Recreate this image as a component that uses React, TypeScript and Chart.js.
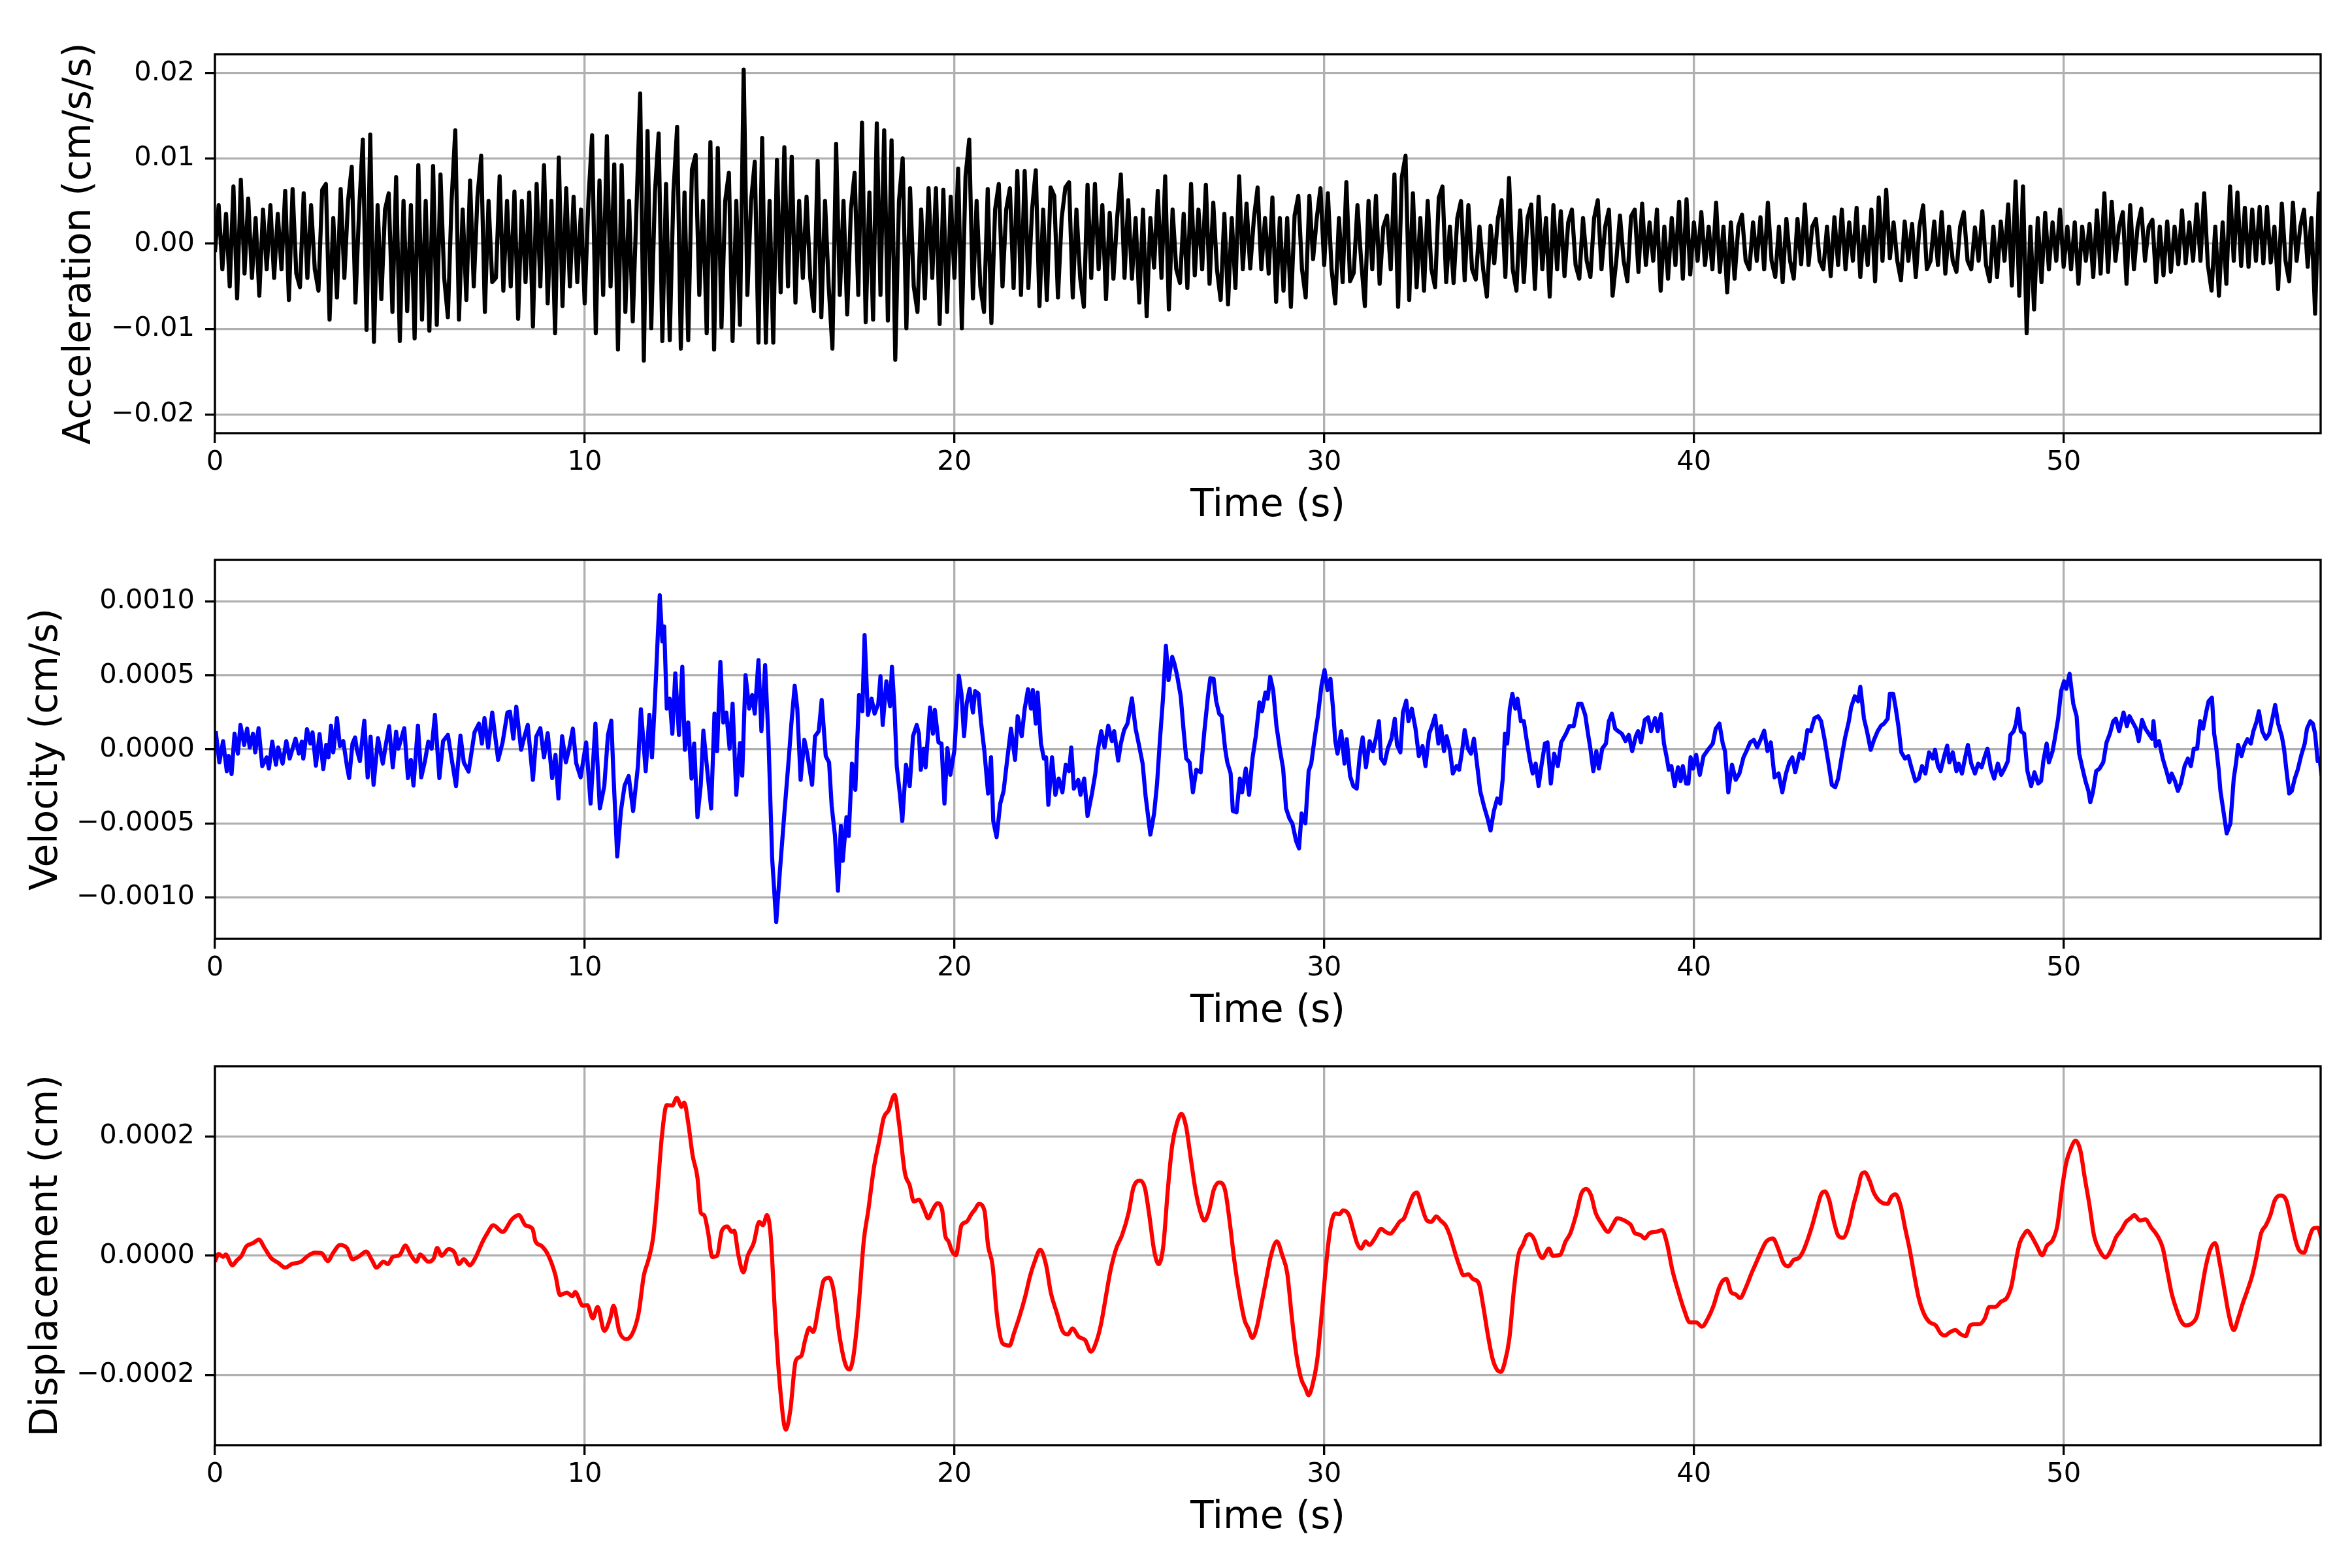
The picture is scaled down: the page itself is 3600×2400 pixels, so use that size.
import React, { useEffect, useRef } from "react";
import { Chart, registerables } from "chart.js";

Chart.register(...registerables);

// time axis (s)
const TIME_MAX = 56.95;
const TIME_TICKS = [0, 10, 20, 30, 40, 50];
const TIME_TICK_LABELS = ["0", "10", "20", "30", "40", "50"];

// acceleration, sampled every ACC_STEP s, values in 1e-3 cm/s/s
const ACC_START = 0;
const ACC_STEP = 0.1;
const ACC_SCALE = 1e-3;
const ACC_VALUES = [
  -1.0, 4.5, -3.0, 3.5, -5.0, 6.7, -6.4, 7.5, -3.5, 5.3,
  -4.0, 3.0, -6.1, 4.0, -3.0, 4.5, -4.0, 3.5, -3.0, 6.2,
  -6.6, 6.4, -3.5, -5.1, 5.9, -4.0, 4.5, -3.0, -5.5, 6.3,
  7.0, -8.9, 3.0, -6.3, 6.4, -4.0, 5.0, 9.0, -6.9, 4.0,
  12.2, -10.1, 12.8, -11.5, 4.5, -6.5, 4.0, 5.9, -8.0, 7.8,
  -11.4, 5.0, -7.9, 4.5, -11.1, 9.2, -8.9, 5.0, -10.2, 9.1,
  -9.5, 8.1, -4.0, -8.6, 5.0, 13.3, -8.9, 4.0, -6.6, 7.4,
  -5.0, 5.5, 10.3, -8.0, 5.0, -4.5, -4.0, 7.9, -5.5, 5.0,
  -5.0, 6.1, -8.8, 5.0, -4.5, 6.0, -9.7, 7.0, -5.0, 9.2,
  -7.0, 5.0, -10.5, 10.1, -7.3, 6.5, -5.0, 5.5, -4.5, 4.0,
  -7.0, 5.0, 12.7, -10.5, 7.4, -6.0, 12.6, -5.0, 9.3, -12.4,
  9.2, -8.0, 5.0, -9.1, 4.0, 17.6, -13.7, 13.2, -9.9, 6.0,
  12.9, -11.4, 7.0, -11.3, 6.0, 13.7, -12.3, 6.0, -11.3, 8.7,
  10.4, -6.0, 5.0, -10.5, 11.9, -12.4, 11.2, -9.8, 5.0, 8.3,
  -11.4, 5.0, -9.5, 20.4, -6.0, 5.0, 9.6, -11.6, 12.4, -11.6,
  5.0, -11.6, 9.8, -5.7, 11.3, -5.0, 10.2, -6.9, 5.0, -4.0,
  5.5, -4.0, -7.9, 9.7, -8.6, 5.0, -5.0, -12.3, 11.7, -6.0,
  5.0, -8.3, 4.0, 8.3, -6.0, 14.2, -9.2, 6.0, -8.9, 14.1,
  -6.0, 13.3, -9.0, 12.1, -13.6, 5.0, 10.0, -9.9, 6.5, -5.0,
  -8.0, 4.0, -6.4, 6.5, -4.0, 6.5, -9.4, 6.3, -8.0, 5.5,
  -4.0, 8.8, -9.9, 7.9, 12.2, -6.4, 5.0, -5.0, -8.0, 6.4,
  -9.3, 4.0, 7.0, -5.0, 4.0, 6.5, -5.2, 8.5, -6.0, 8.5,
  -5.2, 4.0, 8.6, -7.3, 4.0, -6.6, 6.6, 5.6, -6.3, 3.0,
  6.6, 7.2, -6.3, 4.0, -4.0, -7.4, 6.9, -4.0, 7.0, -3.0,
  4.5, -6.5, 3.6, -4.1, 3.0, 8.1, -4.0, 5.1, -4.1, 3.0,
  -6.9, 4.0, -8.5, 3.0, -2.8, 6.2, -4.0, 7.9, -7.7, 4.0,
  -3.0, -4.6, 3.5, -5.2, 7.0, -3.7, 4.0, -3.0, 6.9, -4.7,
  4.8, -3.0, -6.6, 3.5, -7.1, 3.0, -5.2, 7.9, -3.0, 4.7,
  -2.9, 3.0, 6.6, -3.0, 3.0, -3.5, 5.4, -6.8, 3.0, -5.5,
  3.0, -7.4, 3.3, 5.6, -3.0, -6.3, 5.6, -1.8, 3.0, 6.5,
  -2.5, 5.9, -3.0, -7.0, 3.0, -4.5, 7.2, -4.4, -3.4, 4.5,
  -2.0, -7.3, 5.0, -3.0, 5.6, -4.7, 2.0, 3.3, -3.0, 8.1,
  -7.4, 7.8, 10.3, -6.6, 5.9, -5.1, 3.0, -5.5, 5.0, -3.0,
  -5.1, 5.4, 6.7, -4.5, 2.0, -4.6, 3.0, 5.0, -4.3, 4.5,
  -3.0, -4.2, 2.0, -3.0, -6.2, 2.1, -2.3, 3.0, 5.1, -3.9,
  7.7, -3.0, -5.5, 3.9, -4.5, 3.0, 4.6, -5.3, 5.5, -3.0,
  3.0, -6.2, 4.5, -3.0, 3.8, -3.8, 2.5, 4.0, -2.5, -4.1,
  3.0, -2.0, -3.9, 3.0, 5.1, -3.0, 2.0, 4.0, -6.1, -2.0,
  3.3, -2.0, -4.4, 3.2, 4.0, -3.3, 4.7, -2.5, 2.5, -2.0,
  4.0, -5.5, 2.0, -4.1, 3.0, -2.5, 4.9, -4.1, 5.2, -3.6,
  2.5, -2.0, 3.7, -2.5, 2.0, -3.0, 4.8, -3.3, 2.0, -5.7,
  2.5, -4.1, 2.0, 3.4, -2.0, -3.0, 2.5, -2.0, 3.1, -3.0,
  4.8, -2.0, -3.9, 2.0, -4.5, 2.9, -2.0, -4.1, 2.9, -2.4,
  4.6, -2.5, 2.0, 2.9, -2.0, -3.0, 2.0, -3.8, 3.1, -2.5,
  4.0, -3.0, 2.5, -2.0, 4.2, -3.9, 2.0, -2.5, 4.0, -4.4,
  5.4, -2.0, 6.3, -1.7, 2.5, -2.0, -4.3, 2.6, -2.0, 2.3,
  -3.9, 2.0, 4.5, -3.0, -2.0, 2.6, -2.5, 3.7, -3.5, 2.0,
  -2.0, -3.3, 2.0, 3.7, -2.0, -3.0, 1.9, -2.0, 3.8, -2.5,
  -4.4, 2.0, -3.9, 2.6, -2.0, 4.6, -4.9, 7.3, -6.1, 6.7,
  -10.5, 2.0, -7.7, 3.0, -4.5, 3.6, -3.0, 2.5, -2.0, 4.0,
  -2.7, 2.0, -3.0, 2.5, -4.7, 2.0, -2.0, 2.3, -3.9, 3.9,
  -3.5, 5.9, -3.3, 4.9, -2.0, 2.0, 3.7, -4.7, 4.5, -3.0,
  2.0, 4.1, -2.0, 2.0, 2.8, -4.5, 2.0, -3.7, 2.6, -3.3,
  2.0, -2.4, 3.9, -2.3, 2.5, -2.0, 4.6, -2.0, 5.9, -2.5,
  -5.5, 2.0, -6.1, 2.5, -4.7, 6.7, -2.0, 6.0, -2.6, 4.2,
  -2.7, 4.0, -2.0, 4.3, -2.3, 4.3, -2.2, 2.0, -5.3, 4.7,
  -2.0, -4.4, 4.8, -2.0, 2.0, 4.0, -2.7, 3.0, -8.2, 5.9,
  -5.5,
];

// velocity, [time s, value in 1e-4 cm/s]
const VEL_SCALE = 1e-4;
const VEL_POINTS: [number, number][] = [
  [0.02, 1.23], [0.12, -0.88], [0.22, 0.56], [0.32, -1.47], [0.37, -0.45], [0.45, -1.67], [0.53, 1.06], [0.62, -0.29],
  [0.69, 1.65], [0.79, 0.3], [0.87, 1.4], [0.94, 0.13], [1.03, 1.06], [1.09, -0.2], [1.18, 1.43], [1.28, -1.13],
  [1.4, -0.54], [1.46, -1.3], [1.55, 0.52], [1.65, -1.04], [1.71, 0.13], [1.83, -0.96], [1.93, 0.56], [2.02, -0.62],
  [2.18, 0.72], [2.27, -0.29], [2.35, 0.52], [2.39, -0.62], [2.49, 1.36], [2.58, 0.39], [2.64, 1.15], [2.73, -1.1],
  [2.83, 1.03], [2.93, -1.33], [3.01, 0.3], [3.07, -0.54], [3.14, 1.6], [3.2, -0.2], [3.3, 2.11], [3.38, 0.22],
  [3.47, 0.56], [3.57, -1.13], [3.63, -1.94], [3.72, 0.39], [3.79, 0.81], [3.84, -0.03], [3.92, -0.79], [4.04, 1.94],
  [4.13, -1.89], [4.21, 0.86], [4.29, -2.39], [4.41, 0.76], [4.54, -0.96], [4.62, 0.3], [4.71, 1.57], [4.81, -1.21],
  [4.9, 1.2], [4.96, 0.05], [5.12, 1.43], [5.22, -1.94], [5.3, -0.71], [5.37, -2.44], [5.49, 1.6], [5.58, -1.89],
  [5.68, -0.79], [5.77, 0.52], [5.86, 0.05], [5.95, 2.33], [6.07, -1.94], [6.17, 0.56], [6.3, 0.98], [6.39, -0.45],
  [6.52, -2.48], [6.64, 0.93], [6.73, -0.88], [6.86, -1.5], [7.02, 1.15], [7.14, 1.74], [7.22, 0.39], [7.29, 2.11],
  [7.39, 0.13], [7.5, 2.49], [7.66, -0.71], [7.78, 0.47], [7.91, 2.49], [7.98, 2.54], [8.07, 0.72], [8.15, 2.88],
  [8.28, -0.03], [8.37, 0.86], [8.46, 1.65], [8.6, -2.06], [8.69, 0.86], [8.8, 1.43], [8.9, -0.54], [9.0, 1.1],
  [9.12, -1.94], [9.21, -0.37], [9.29, -3.32], [9.39, 0.89], [9.49, -0.88], [9.58, 0.05], [9.68, 1.4], [9.77, -0.93],
  [9.89, -1.89], [10.04, 0.47], [10.16, -3.66], [10.29, 1.74], [10.41, -3.99], [10.53, -2.48], [10.63, 0.98], [10.72, 1.94],
  [10.78, -1.8], [10.88, -7.23], [10.98, -4.16], [11.08, -2.44], [11.19, -1.8], [11.31, -4.16], [11.44, -1.13], [11.52, 2.71],
  [11.65, -1.47], [11.75, 2.33], [11.82, -0.54], [11.9, 3.34], [11.97, 7.3], [12.03, 10.41], [12.1, 7.3], [12.15, 8.31],
  [12.22, 2.75], [12.3, 3.42], [12.37, 1.06], [12.45, 5.14], [12.55, 0.98], [12.64, 5.58], [12.71, -0.03], [12.8, 1.82],
  [12.89, -1.97], [12.96, 0.39], [13.05, -4.58], [13.14, -2.39], [13.21, 1.26], [13.3, -1.04], [13.42, -3.99], [13.51, 2.41],
  [13.58, -0.12], [13.67, 5.91], [13.75, 1.82], [13.83, 2.49], [13.92, 0.05], [14.0, 3.08], [14.1, -3.07], [14.2, 0.42],
  [14.26, -1.77], [14.35, 5.02], [14.45, 2.75], [14.53, 3.67], [14.6, 2.41], [14.7, 6.03], [14.78, 1.23], [14.88, 5.69],
  [14.97, 0.72], [15.07, -7.36], [15.18, -11.66], [15.28, -8.21], [15.4, -4.33], [15.53, -0.29], [15.59, 1.74], [15.68, 4.3],
  [15.75, 2.75], [15.84, -2.06], [15.94, 0.64], [16.02, -0.29], [16.15, -2.39], [16.23, 0.89], [16.33, 1.23], [16.41, 3.34],
  [16.52, -0.45], [16.61, -0.88], [16.68, -3.82], [16.77, -5.85], [16.85, -9.55], [16.93, -5.17], [16.98, -7.53], [17.08, -4.58],
  [17.14, -5.85], [17.23, -0.96], [17.32, -2.73], [17.42, 3.67], [17.51, 2.58], [17.57, 7.72], [17.66, 2.33], [17.76, 3.42],
  [17.84, 2.41], [17.94, 3.08], [18.0, 4.94], [18.06, 1.65], [18.16, 4.6], [18.26, 2.91], [18.31, 5.58], [18.38, 2.75],
  [18.44, -1.13], [18.53, -3.15], [18.59, -4.84], [18.69, -1.04], [18.79, -2.48], [18.88, 0.89], [18.98, 1.65],
  [19.04, 1.06], [19.09, -1.38], [19.17, 0.05], [19.22, -1.21], [19.34, 2.83], [19.42, 1.06], [19.47, 2.66], [19.57, 0.47],
  [19.65, 0.39], [19.73, -3.66], [19.81, 0.08], [19.89, -1.72], [20.0, -0.03], [20.12, 4.97], [20.19, 3.76], [20.26, 0.89],
  [20.33, 3.08], [20.41, 4.09], [20.5, 2.49], [20.56, 3.93], [20.65, 3.76], [20.72, 1.82], [20.81, -0.12], [20.91, -2.98],
  [20.99, -0.54], [21.05, -4.84], [21.14, -5.93], [21.24, -3.66], [21.33, -2.81], [21.43, -0.62], [21.53, 1.4], [21.64, -0.71],
  [21.71, 2.24], [21.82, 0.89], [21.9, 2.75], [21.99, 4.06], [22.07, 2.75], [22.12, 4.01], [22.2, 1.74], [22.25, 3.84],
  [22.34, 0.39], [22.42, -0.62], [22.48, -0.54], [22.54, -3.74], [22.64, -0.54], [22.73, -3.07], [22.82, -1.97], [22.92, -2.9],
  [23.01, -1.04], [23.1, -1.47], [23.16, 0.13], [23.23, -2.65], [23.35, -2.06], [23.41, -3.07], [23.51, -1.97], [23.6, -4.5],
  [23.72, -2.98], [23.81, -1.63], [23.88, -0.03], [23.97, 1.23], [24.06, 0.13], [24.16, 1.6], [24.26, 0.56], [24.32, 1.23],
  [24.43, -0.76], [24.5, 0.39], [24.59, 1.31], [24.68, 1.74], [24.8, 3.45], [24.9, 1.4], [24.99, 0.3], [25.09, -0.96],
  [25.17, -3.15], [25.3, -5.76], [25.4, -4.33], [25.48, -2.31], [25.56, 0.72], [25.64, 3.42], [25.72, 6.99], [25.79, 4.68],
  [25.89, 6.25], [25.95, 5.78], [26.02, 5.02], [26.12, 3.59], [26.2, 1.23], [26.27, -0.62], [26.36, -0.88], [26.45, -2.9],
  [26.54, -1.38], [26.66, -1.55], [26.76, 1.23], [26.86, 3.67], [26.92, 4.8], [27.01, 4.77], [27.08, 3.25], [27.16, 2.41],
  [27.23, 2.24], [27.32, 0.05], [27.38, -0.88], [27.47, -1.63], [27.53, -4.16], [27.63, -4.25], [27.72, -1.97], [27.78, -2.9],
  [27.88, -1.3], [27.97, -3.07], [28.06, -0.62], [28.15, 0.89], [28.25, 3.17], [28.32, 2.58], [28.41, 3.84], [28.47, 3.42],
  [28.54, 4.9], [28.62, 4.01], [28.71, 1.57], [28.81, -0.12], [28.89, -1.3], [28.97, -3.99], [29.06, -4.67], [29.14, -5.0],
  [29.24, -6.18], [29.32, -6.69], [29.39, -4.33], [29.49, -5.0], [29.58, -1.47], [29.65, -0.96], [29.74, 0.72], [29.83, 2.24],
  [29.93, 4.35], [30.01, 5.36], [30.09, 4.01], [30.17, 4.77], [30.24, 2.75], [30.3, 0.56], [30.36, -0.29], [30.46, 1.23],
  [30.55, -0.96], [30.61, 0.69], [30.7, -1.8], [30.79, -2.48], [30.88, -2.65], [30.96, -0.45], [31.04, 0.81], [31.13, -1.21],
  [31.23, 0.56], [31.32, -0.12], [31.41, 0.89], [31.48, 1.9], [31.54, -0.62], [31.63, -0.96], [31.72, 0.05], [31.82, 0.72],
  [31.91, 2.07], [31.97, 0.3], [32.06, -0.2], [32.13, 2.49], [32.22, 3.29], [32.28, 1.9], [32.37, 2.75], [32.47, 1.4],
  [32.56, -0.45], [32.66, 0.22], [32.74, -1.13], [32.84, 1.06], [32.91, 1.53], [33.0, 2.27], [33.09, 0.39], [33.16, 1.57],
  [33.24, -0.12], [33.31, 0.89], [33.4, -0.03], [33.48, -1.63], [33.58, -1.13], [33.65, -1.38], [33.73, -0.12], [33.8, 1.31],
  [33.89, 0.05], [33.97, -0.29], [34.05, 0.72], [34.14, -1.13], [34.22, -2.81], [34.32, -3.82], [34.42, -4.67], [34.5, -5.48],
  [34.59, -4.16], [34.68, -3.32], [34.76, -3.66], [34.83, -1.97], [34.89, 1.06], [34.95, 0.39], [35.02, 2.75], [35.09, 3.76],
  [35.17, 2.75], [35.23, 3.42], [35.32, 1.9], [35.4, 1.9], [35.49, 0.39], [35.57, -0.79], [35.64, -1.63], [35.72, -0.96],
  [35.8, -2.48], [35.88, -1.04], [35.97, 0.39], [36.04, 0.47], [36.13, -2.31], [36.22, -0.29], [36.32, -1.13], [36.41, 0.47],
  [36.54, 1.06], [36.63, 1.57], [36.75, 1.57], [36.87, 3.08], [36.96, 3.08], [37.06, 2.33], [37.14, 0.98], [37.2, 0.05],
  [37.28, -1.47], [37.36, -0.12], [37.43, -1.3], [37.52, 0.05], [37.62, 0.39], [37.7, 1.9], [37.78, 2.41], [37.87, 1.4],
  [37.95, 1.23], [38.05, 1.06],
  [38.15, 0.56], [38.24, 0.98], [38.33, -0.12], [38.43, 0.89], [38.49, 1.23], [38.57, 0.47], [38.67, 1.99], [38.76, 2.16],
  [38.84, 1.23], [38.95, 2.11], [39.02, 1.23], [39.11, 2.38], [39.19, 0.39], [39.27, -0.62], [39.32, -1.38], [39.39, -1.13],
  [39.48, -2.48], [39.57, -1.21], [39.64, -2.14], [39.7, -1.13], [39.79, -2.31], [39.85, -2.31], [39.91, -0.54], [39.98, -1.3],
  [40.06, -0.37], [40.16, -1.72], [40.26, -0.45], [40.38, -0.03], [40.51, 0.39], [40.59, 1.4], [40.69, 1.74], [40.78, 0.39],
  [40.84, -0.12], [40.93, -2.9], [41.03, -1.04], [41.13, -2.06], [41.23, -1.63], [41.34, -0.54], [41.42, -0.12], [41.52, 0.47],
  [41.62, 0.64], [41.71, 0.13], [41.8, 0.64], [41.9, 1.26], [41.99, -0.12], [42.08, 0.47], [42.18, -1.89], [42.29, -1.63],
  [42.39, -2.9], [42.49, -1.63], [42.58, -0.88], [42.66, -0.54], [42.74, -1.55], [42.86, -0.29], [42.95, -0.62], [43.01, 0.3],
  [43.07, 1.31], [43.16, 1.23], [43.26, 2.11], [43.36, 2.24], [43.44, 1.9], [43.53, 0.72], [43.63, -0.79], [43.73, -2.39],
  [43.82, -2.56], [43.9, -1.97], [44.0, -0.45], [44.09, 0.81], [44.19, 1.9], [44.25, 2.83], [44.35, 3.59], [44.44, 3.25],
  [44.5, 4.23], [44.6, 2.07], [44.68, 1.23], [44.78, -0.03], [44.87, 0.64], [44.97, 1.23], [45.06, 1.6], [45.14, 1.74],
  [45.24, 2.07], [45.3, 3.76], [45.39, 3.76], [45.46, 2.75], [45.53, 1.57], [45.61, -0.2], [45.71, -0.62], [45.8, -0.45],
  [45.89, -1.3], [45.99, -2.14], [46.08, -1.97], [46.17, -1.13], [46.26, -1.63], [46.36, -0.2], [46.46, -0.62], [46.52, -0.03],
  [46.6, -1.13], [46.67, -1.47], [46.77, -0.45], [46.85, 0.25], [46.91, -0.88], [47.0, -0.2], [47.1, -1.47], [47.16, -0.96],
  [47.25, -1.63], [47.33, -0.62], [47.41, 0.3], [47.5, -0.96], [47.6, -1.63], [47.69, -0.96], [47.78, -1.21], [47.87, -0.45],
  [47.94, 0.05], [48.03, -1.3], [48.12, -1.97], [48.22, -0.96], [48.31, -1.72], [48.4, -1.3], [48.49, -0.79], [48.56, 0.98],
  [48.65, 1.23], [48.71, 1.74], [48.77, 2.75], [48.84, 1.23], [48.93, 1.06], [49.02, -1.47], [49.12, -2.48], [49.21, -1.55],
  [49.31, -2.31], [49.39, -2.14], [49.45, -0.79], [49.54, 0.39], [49.6, -0.88], [49.7, -0.12], [49.76, 0.72], [49.85, 2.07],
  [49.93, 3.93], [50.01, 4.6], [50.07, 4.09], [50.16, 5.11], [50.26, 3.08], [50.35, 2.24], [50.42, -0.29], [50.51, -1.3],
  [50.59, -2.14], [50.67, -2.81], [50.72, -3.57], [50.79, -2.9], [50.88, -1.47], [50.97, -1.3], [51.07, -0.88], [51.16, 0.47],
  [51.25, 1.06], [51.34, 1.9], [51.41, 2.07], [51.5, 1.23], [51.62, 2.49], [51.71, 1.57], [51.78, 2.24], [51.87, 1.82],
  [51.96, 1.4], [52.03, 0.56], [52.12, 1.99], [52.21, 1.4], [52.3, 1.06], [52.39, 0.72], [52.43, 1.9], [52.49, 0.22],
  [52.58, 0.56], [52.68, -0.62], [52.78, -1.47], [52.86, -2.22], [52.92, -1.63], [53.01, -2.14], [53.09, -2.81], [53.17, -2.31],
  [53.27, -1.13], [53.36, -0.62], [53.44, -1.13], [53.52, 0.05], [53.61, 0.05], [53.69, 1.9], [53.77, 1.4], [53.86, 2.58],
  [53.92, 3.25], [54.01, 3.5], [54.07, 1.06], [54.13, 0.05], [54.19, -1.3], [54.24, -2.81], [54.31, -3.99], [54.41, -5.68],
  [54.51, -5.0], [54.6, -1.97], [54.66, -0.96], [54.72, 0.3], [54.81, -0.45], [54.88, 0.22], [54.97, 0.69], [55.06, 0.39],
  [55.13, 1.23], [55.22, 1.9], [55.28, 2.58], [55.37, 1.23], [55.47, 0.72], [55.56, 1.06], [55.63, 1.9], [55.72, 3.0],
  [55.8, 1.74], [55.9, 0.89], [55.96, 0.05], [56.02, -1.3], [56.1, -2.98], [56.17, -2.81], [56.25, -1.97], [56.33, -1.38],
  [56.42, -0.45], [56.52, 0.39], [56.58, 1.4], [56.67, 1.9], [56.74, 1.74], [56.8, 1.06], [56.87, -0.79], [56.92, -0.62],
  [56.98, -1.8],
];

// displacement, [time s, value in 1e-4 cm]
const DISP_SCALE = 1e-4;
const DISP_POINTS: [number, number][] = [
  [0, -0.1], [0.1, 0.03], [0.22, -0.02], [0.29, 0.02], [0.47, -0.16], [0.59, -0.08], [0.72, 0.0], [0.84, 0.15],
  [1.03, 0.21], [1.19, 0.27], [1.34, 0.13], [1.52, -0.04], [1.71, -0.12], [1.9, -0.2], [2.08, -0.14], [2.33, -0.1],
  [2.52, 0.0], [2.7, 0.05], [2.89, 0.04], [3.05, -0.09], [3.2, 0.05], [3.38, 0.18], [3.57, 0.13], [3.72, -0.06],
  [3.92, 0.0], [4.09, 0.07], [4.25, -0.08], [4.37, -0.2], [4.56, -0.1], [4.68, -0.14], [4.81, -0.02], [4.99, 0.01],
  [5.15, 0.17], [5.3, 0.01], [5.45, -0.1], [5.55, 0.02], [5.77, -0.1], [5.92, -0.04], [6.01, 0.13], [6.13, 0.0],
  [6.32, 0.11], [6.48, 0.05], [6.6, -0.14], [6.73, -0.06], [6.89, -0.16], [7.04, -0.04], [7.22, 0.21], [7.35, 0.36],
  [7.53, 0.51], [7.78, 0.4], [8.03, 0.61], [8.22, 0.68], [8.4, 0.51], [8.59, 0.45], [8.67, 0.24], [8.84, 0.16],
  [9.02, 0.0], [9.21, -0.33], [9.33, -0.66], [9.52, -0.62], [9.67, -0.68], [9.74, -0.61], [9.95, -0.84], [10.07, -0.83],
  [10.22, -1.05], [10.35, -0.86], [10.53, -1.26], [10.69, -1.05], [10.78, -0.84], [10.94, -1.28], [11.13, -1.4], [11.31, -1.28],
  [11.46, -0.96], [11.6, -0.33], [11.72, -0.08], [11.85, 0.3], [11.97, 1.1], [12.09, 2.02], [12.22, 2.53], [12.37, 2.52],
  [12.49, 2.65], [12.62, 2.5], [12.69, 2.57], [12.8, 2.23], [12.92, 1.68], [13.05, 1.31], [13.14, 0.72], [13.23, 0.68],
  [13.33, 0.42], [13.45, -0.02], [13.58, 0.0], [13.71, 0.42], [13.86, 0.49], [13.98, 0.4], [14.04, 0.42], [14.16, 0.0],
  [14.29, -0.28], [14.41, 0.0], [14.57, 0.21], [14.72, 0.57], [14.82, 0.51], [14.93, 0.68], [15.03, 0.34], [15.15, -1.0],
  [15.28, -2.18], [15.44, -2.92], [15.56, -2.6], [15.71, -1.76], [15.86, -1.68], [15.96, -1.42], [16.08, -1.21], [16.18, -1.28],
  [16.33, -0.84], [16.46, -0.42], [16.61, -0.37], [16.73, -0.58], [16.89, -1.34], [17.05, -1.82], [17.16, -1.91], [17.26, -1.72],
  [17.39, -1.0], [17.55, 0.26], [17.67, 0.76], [17.82, 1.47], [17.97, 1.94], [18.09, 2.32], [18.22, 2.44], [18.38, 2.7],
  [18.5, 2.23], [18.66, 1.39], [18.79, 1.18], [18.9, 0.91],
  [19.04, 0.94], [19.19, 0.76], [19.29, 0.63], [19.42, 0.78], [19.54, 0.88], [19.67, 0.76], [19.75, 0.34], [19.84, 0.24],
  [19.94, 0.07], [20.04, 0.01], [20.19, 0.51], [20.33, 0.57], [20.46, 0.7], [20.56, 0.78], [20.66, 0.87], [20.81, 0.76],
  [20.91, 0.17], [21.03, -0.16], [21.15, -1.0], [21.3, -1.47], [21.49, -1.51], [21.61, -1.3], [21.77, -1.0], [21.92, -0.67],
  [22.05, -0.33], [22.17, -0.1], [22.32, 0.1], [22.48, -0.16], [22.61, -0.63], [22.77, -0.96], [22.92, -1.26], [23.07, -1.32],
  [23.19, -1.22], [23.36, -1.36], [23.54, -1.42], [23.69, -1.61], [23.85, -1.42], [23.97, -1.13], [24.1, -0.67], [24.22, -0.25],
  [24.38, 0.13], [24.53, 0.34], [24.71, 0.72], [24.84, 1.14], [25.02, 1.26], [25.15, 1.14], [25.27, 0.68], [25.4, 0.09],
  [25.52, -0.14], [25.65, 0.17], [25.77, 1.1], [25.89, 1.85], [26.02, 2.23], [26.14, 2.38], [26.27, 2.15], [26.39, 1.64],
  [26.52, 1.1], [26.66, 0.72], [26.76, 0.59], [26.89, 0.76], [27.01, 1.1], [27.16, 1.23], [27.32, 1.1], [27.44, 0.59],
  [27.57, -0.08], [27.69, -0.58], [27.85, -1.09], [27.94, -1.21], [28.06, -1.38], [28.19, -1.17], [28.31, -0.79], [28.44, -0.37],
  [28.56, 0.0], [28.72, 0.24], [28.87, 0.0], [29.0, -0.29], [29.12, -1.0], [29.24, -1.63], [29.37, -2.05], [29.49, -2.22],
  [29.58, -2.34], [29.68, -2.18], [29.81, -1.76], [29.93, -1.0], [30.05, -0.16], [30.17, 0.47], [30.3, 0.71], [30.42, 0.7],
  [30.51, 0.76], [30.67, 0.68], [30.79, 0.42], [30.89, 0.21], [31.0, 0.12], [31.12, 0.24], [31.22, 0.18], [31.38, 0.3],
  [31.54, 0.45], [31.66, 0.4], [31.79, 0.37], [31.91, 0.45], [32.04, 0.57], [32.16, 0.63], [32.29, 0.84], [32.41, 1.02],
  [32.51, 1.06], [32.63, 0.84], [32.78, 0.59], [32.9, 0.57], [33.03, 0.66], [33.15, 0.59], [33.28, 0.51], [33.4, 0.34],
  [33.52, 0.09], [33.65, -0.16], [33.77, -0.33], [33.9, -0.31], [34.02, -0.39], [34.18, -0.46], [34.3, -0.84], [34.43, -1.34],
  [34.55, -1.72], [34.67, -1.91], [34.78, -1.95], [34.88, -1.8], [35.01, -1.38], [35.13, -0.58], [35.25, 0.0], [35.38, 0.19],
  [35.48, 0.34], [35.56, 0.36], [35.69, 0.26], [35.79, 0.07], [35.9, -0.04], [36.08, 0.12], [36.18, 0.0], [36.37, 0.01],
  [36.53, 0.24], [36.66, 0.38], [36.81, 0.68], [36.96, 1.05], [37.09, 1.12], [37.22, 1.01], [37.34, 0.72], [37.49, 0.55],
  [37.68, 0.4], [37.8, 0.51], [37.93, 0.63],
  [38.05, 0.61], [38.18, 0.57], [38.3, 0.51], [38.4, 0.38], [38.55, 0.35], [38.67, 0.29], [38.8, 0.38], [38.98, 0.4],
  [39.14, 0.43], [39.27, 0.21], [39.42, -0.25], [39.57, -0.58], [39.73, -0.9], [39.89, -1.12], [40.06, -1.12], [40.22, -1.19],
  [40.38, -1.05], [40.53, -0.84], [40.68, -0.54], [40.78, -0.42], [40.88, -0.39], [41.0, -0.61], [41.13, -0.65], [41.25, -0.71],
  [41.4, -0.54], [41.56, -0.29], [41.71, -0.08], [41.83, 0.09], [41.96, 0.24], [42.14, 0.29], [42.27, 0.13], [42.42, -0.12],
  [42.55, -0.18], [42.7, -0.07], [42.83, -0.04], [42.95, 0.07], [43.07, 0.26], [43.2, 0.51], [43.32, 0.78], [43.44, 1.03],
  [43.54, 1.08], [43.66, 0.93], [43.78, 0.59], [43.9, 0.34], [44.03, 0.3], [44.19, 0.51], [44.31, 0.84], [44.44, 1.14],
  [44.52, 1.35], [44.62, 1.4], [44.75, 1.26], [44.87, 1.05], [45.0, 0.93], [45.12, 0.88], [45.24, 0.87], [45.34, 0.99],
  [45.45, 1.03], [45.59, 0.84], [45.71, 0.47], [45.84, 0.09], [45.96, -0.33], [46.08, -0.71], [46.21, -0.96], [46.36, -1.11],
  [46.54, -1.17], [46.67, -1.3], [46.79, -1.34], [46.91, -1.29], [47.07, -1.25], [47.22, -1.32], [47.35, -1.35], [47.47, -1.17],
  [47.59, -1.15], [47.72, -1.15], [47.87, -1.05], [47.99, -0.86], [48.15, -0.86], [48.31, -0.77], [48.46, -0.71], [48.59, -0.5],
  [48.71, -0.08], [48.81, 0.21], [48.93, 0.36], [49.02, 0.42], [49.12, 0.34], [49.27, 0.17], [49.42, 0.01], [49.55, 0.17],
  [49.7, 0.26], [49.83, 0.51], [49.95, 1.1], [50.07, 1.56], [50.2, 1.81], [50.32, 1.93], [50.45, 1.77], [50.57, 1.31],
  [50.7, 0.84], [50.82, 0.34], [50.97, 0.09], [51.13, -0.03], [51.29, 0.11], [51.41, 0.3], [51.56, 0.43], [51.69, 0.57],
  [51.81, 0.63], [51.91, 0.68], [52.06, 0.59], [52.21, 0.61], [52.37, 0.47], [52.53, 0.34], [52.68, 0.13], [52.8, -0.25],
  [52.92, -0.63], [53.05, -0.9], [53.17, -1.09], [53.3, -1.17], [53.48, -1.13], [53.61, -1.0], [53.73, -0.58], [53.85, -0.16],
  [53.98, 0.13], [54.1, 0.21], [54.22, -0.12], [54.35, -0.58], [54.47, -1.0], [54.6, -1.25], [54.72, -1.05], [54.85, -0.79],
  [54.97, -0.58], [55.1, -0.33], [55.22, 0.0], [55.34, 0.38], [55.47, 0.51], [55.59, 0.68], [55.71, 0.93], [55.86, 1.01],
  [56.02, 0.93], [56.15, 0.59], [56.27, 0.26], [56.37, 0.09], [56.5, 0.05], [56.62, 0.26], [56.74, 0.45], [56.87, 0.47],
  [56.98, 0.28],
];

// y axes: limits, ticks and tick labels
const ACC_LIMIT = 0.0222;
const ACC_TICKS = [-0.02, -0.01, 0, 0.01, 0.02];
const ACC_TICK_LABELS = ["\u22120.02", "\u22120.01", "0.00", "0.01", "0.02"];
const VEL_LIMIT = 0.00128;
const VEL_TICKS = [-0.001, -0.0005, 0, 0.0005, 0.001];
const VEL_TICK_LABELS = ["\u22120.0010", "\u22120.0005", "0.0000", "0.0005", "0.0010"];
const DISP_LIMIT = 0.000318;
const DISP_TICKS = [-0.0002, 0, 0.0002];
const DISP_TICK_LABELS = ["\u22120.0002", "0.0000", "0.0002"];

const FONT = "DejaVu Sans";
const PX = 300 / 72; // points -> pixels

const frame = {
  id: "frame",
  afterDatasetsDraw(chart: Chart) {
    const { ctx, chartArea } = chart;
    ctx.save();
    ctx.strokeStyle = "#000";
    ctx.lineWidth = 0.8 * PX;
    ctx.strokeRect(chartArea.left, chartArea.top, chartArea.right - chartArea.left, chartArea.bottom - chartArea.top);
    ctx.restore();
  },
};

type PanelProps = {
  top: number;
  points: { x: number; y: number }[];
  color: string;
  limit: number;
  ticks: number[];
  tickLabels: string[];
  title: string;
  titlePad: number;
  smooth?: boolean;
};

const Panel = ({ top, points, color, limit, ticks, tickLabels, title, titlePad, smooth }: PanelProps) => {
  const canvasRef = useRef<HTMLCanvasElement | null>(null);

  useEffect(() => {
    const ctx = canvasRef.current?.getContext("2d");
    if (!ctx) return;

    const chart = new Chart(ctx, {
      type: "line",
      data: {
        datasets: [
          {
            data: points,
            borderColor: color,
            borderWidth: 1.5 * PX,
            pointRadius: 0,
            fill: false,
            tension: 0,
            cubicInterpolationMode: smooth ? "monotone" : "default",
            borderJoinStyle: "round",
            clip: 0,
          },
        ],
      },
      options: {
        responsive: false,
        devicePixelRatio: 1,
        animation: false,
        parsing: false,
        normalized: true,
        layout: { padding: { top: 83, right: 48, left: 0, bottom: 0 } },
        plugins: { legend: { display: false }, tooltip: { enabled: false } },
        scales: {
          x: {
            type: "linear",
            min: 0,
            max: TIME_MAX,
            afterBuildTicks: (scale) => {
              scale.ticks = TIME_TICKS.map((value) => ({ value }));
            },
            afterFit: (scale) => {
              scale.height = 147;
            },
            grid: {
              color: "#b0b0b0",
              lineWidth: 0.8 * PX,
              tickColor: "#000",
              tickWidth: 0.8 * PX,
              tickLength: 15,
            },
            border: { display: false },
            ticks: {
              color: "#000",
              padding: 5,
              maxRotation: 0,
              font: { family: FONT, size: 10 * PX },
              callback: (_v, i) => TIME_TICK_LABELS[i],
            },
            title: {
              display: true,
              text: "Time (s)",
              color: "#000",
              padding: 0,
              font: { family: FONT, size: 14 * PX },
            },
          },
          y: {
            type: "linear",
            min: -limit,
            max: limit,
            afterBuildTicks: (scale) => {
              scale.ticks = ticks.map((value) => ({ value }));
            },
            afterFit: (scale) => {
              scale.width = 329;
            },
            grid: {
              color: "#b0b0b0",
              lineWidth: 0.8 * PX,
              tickColor: "#000",
              tickWidth: 0.8 * PX,
              tickLength: 15,
            },
            border: { display: false },
            ticks: {
              color: "#000",
              padding: 16,
              font: { family: FONT, size: 10 * PX },
              callback: (_v, i) => tickLabels[i],
            },
            title: {
              display: true,
              text: title,
              color: "#000",
              padding: { top: titlePad, bottom: 0 },
              font: { family: FONT, size: 14 * PX },
            },
          },
        },
      },
      plugins: [frame],
    });

    return () => chart.destroy();
  }, []);

  return (
    <canvas
      ref={canvasRef}
      width={3600}
      height={810}
      style={{ position: "absolute", left: 0, top, width: 3600, height: 810 }}
    />
  );
};

const App = () => {
  const accData = ACC_VALUES.map((v, i) => ({ x: ACC_START + i * ACC_STEP, y: v * ACC_SCALE }));
  const velData = VEL_POINTS.map(([t, v]) => ({ x: t, y: v * VEL_SCALE }));
  const dispData = DISP_POINTS.map(([t, v]) => ({ x: t, y: v * DISP_SCALE }));

  return (
    <div style={{ position: "absolute", left: 0, top: 0, width: 3600, height: 2400, background: "#fff" }}>
      <Panel
        top={0}
        points={accData}
        color="#000000"
        limit={ACC_LIMIT}
        ticks={ACC_TICKS}
        tickLabels={ACC_TICK_LABELS}
        title="Acceleration (cm/s/s)"
        titlePad={88}
      />
      <Panel
        top={774}
        points={velData}
        color="#0000ff"
        limit={VEL_LIMIT}
        ticks={VEL_TICKS}
        tickLabels={VEL_TICK_LABELS}
        title="Velocity (cm/s)"
        titlePad={37}
      />
      <Panel
        top={1549}
        points={dispData}
        color="#ff0000"
        limit={DISP_LIMIT}
        ticks={DISP_TICKS}
        tickLabels={DISP_TICK_LABELS}
        title="Displacement (cm)"
        titlePad={37}
        smooth
      />
    </div>
  );
};

export default App;
